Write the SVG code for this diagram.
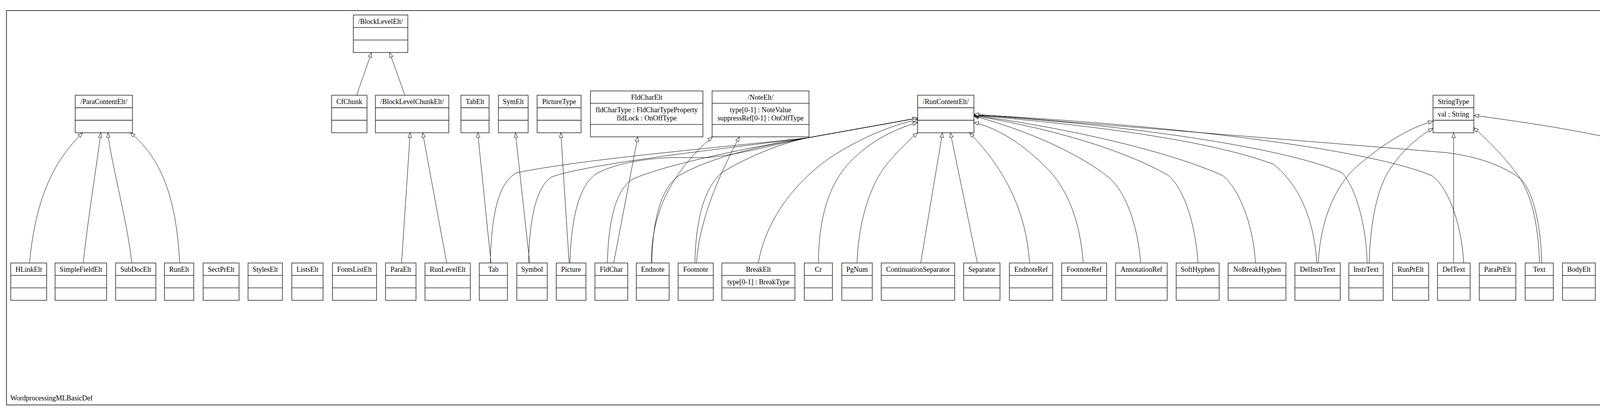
<svg xmlns="http://www.w3.org/2000/svg" width="7341" height="1051" viewBox="0 0 7341 1051">
<style>
.b{fill:#fff;stroke:#000;stroke-width:1.3}
.d{stroke:#000;stroke-width:1.3}
.f{fill:none;stroke:#000;stroke-width:1.5}
.t{font-family:"Liberation Serif","Times New Roman",serif;font-size:18px;text-anchor:middle;fill:#000}
.l{font-family:"Liberation Serif","Times New Roman",serif;font-size:18px;fill:#000}
.c{fill:none;stroke:#000;stroke-width:1;marker-end:url(#gen)}
</style>
<defs>
<marker id="gen" markerWidth="14" markerHeight="11" refX="12.5" refY="5" orient="auto" markerUnits="userSpaceOnUse">
<path d="M0.5,0.5 L12.5,5 L0.5,9.5 Z" fill="#fff" stroke="#000" stroke-width="1"/>
</marker>
</defs>
<rect width="7341" height="1051" fill="#fff"/>
<g id="pkg-WordprocessingMLBasicDef">
<rect class="f" x="16.6" y="27" width="6757" height="1008.5"/>
<text class="l" x="26.5" y="1024">WordprocessingMLBasicDef</text>
</g>
<g id="pkg-PrimitiveTypes">
<rect class="f" x="6783.8" y="667.6" width="541.4" height="138"/>
<text class="l" x="6793.3" y="795.6">PrimitiveTypes</text>
</g>

<g id="connectors">
<path class="c" d="M75.5,672.5 C92,500 140,410 211.5,339.5"/>
<path class="c" d="M213,672.5 C225,560 248,420 258,339.5"/>
<path class="c" d="M337.5,672.5 C325,560 285,420 276,339.5"/>
<path class="c" d="M460,672.5 C452,520 420,410 333.5,339.5"/>
<path class="c" d="M913,243.5 L951,134.5"/>
<path class="c" d="M1036.5,243.5 L997.5,134.5"/>
<path class="c" d="M1028,672.5 L1050,339.5"/>
<path class="c" d="M1143.5,672.5 L1082,339.5"/>
<path class="c" d="M1257,672.5 L1223,339.5"/>
<path class="c" d="M1356,672.5 L1319.5,339.5"/>
<path class="c" d="M1457,672.5 L1435.7,339.5"/>
<path class="c" d="M1571,672.5 L1632.7,350"/>
<path class="c" d="M1667,672.5 C1668,540 1720,440 1823.5,350"/>
<path class="c" d="M1783,672.5 C1790,560 1845,440 1893,350"/>
<path class="c" d="M1255,672.5 C1258,560 1272,470 1322,442 C1500,405 1900,372 2070,352 L2349.3,302"/>
<path class="c" d="M1353,672.5 C1355,570 1370,478 1413,452 C1520,415 1900,375 2070,352 L2349.3,302"/>
<path class="c" d="M1459,672.5 C1462,570 1478,480 1525,445 C1580,415 1660,405 1720,403 L1810,403 C1900,395 2000,365 2070,352 L2349.3,302"/>
<path class="c" d="M1555,672.5 C1557,570 1575,485 1620,458 C1700,422 1900,380 2070,352 L2349.3,302"/>
<path class="c" d="M1669,672.5 C1670,570 1690,480 1740,448 C1820,402 1950,372 2070,352 L2349.3,302"/>
<path class="c" d="M1779,672.5 C1781,570 1800,480 1850,440 C1920,398 2000,366 2070,352 L2349.3,302"/>
<path class="c" d="M1941.5,672.5 C1960,560 2040,460 2130,400 C2200,355 2280,320 2349.3,306"/>
<path class="c" d="M2095,672.5 C2096,560 2120,470 2180,410 C2230,360 2290,330 2349.3,313"/>
<path class="c" d="M2194,672.5 C2198,560 2230,470 2270,420 C2300,385 2325,360 2349.3,339.5"/>
<path class="c" d="M2357,672.5 L2412.7,339.5"/>
<path class="c" d="M2502,672.5 L2433,339.5"/>
<path class="c" d="M2635.5,672.5 C2628,550 2580,440 2482,339.5"/>
<path class="c" d="M2773,672.5 C2765,560 2730,480 2680,430 C2620,370 2560,330 2493.3,313"/>
<path class="c" d="M2920,672.5 C2912,570 2880,490 2840,455 C2760,390 2620,330 2493.3,297"/>
<path class="c" d="M3067,672.5 C3060,570 3030,480 2990,448 C2880,385 2700,330 2493.3,296"/>
<path class="c" d="M3214,672.5 C3208,570 3170,480 3130,449 C3000,390 2750,330 2493.3,295"/>
<path class="c" d="M3371,672.5 C3365,570 3330,475 3260,420 C3100,360 2800,320 2493.3,295"/>
<path class="c" d="M3500,672.5 C3497,570 3470,480 3436,442 C3300,380 2900,320 2493.3,294"/>
<path class="c" d="M3747,672.5 C3742,570 3705,475 3665,449 C3500,380 3000,320 2493.3,293"/>
<path class="c" d="M3947,672.5 C3944,560 3920,480 3890,455 C3840,420 3780,400 3700,390 L2493.3,292"/>
<path class="c" d="M3375,672.5 C3380,560 3420,470 3480,420 C3540,370 3600,330 3668.5,309.6"/>
<path class="c" d="M3505,672.5 C3508,570 3525,480 3560,430 C3590,385 3630,350 3668.5,328"/>
<path class="c" d="M3721.3,672.5 L3721.3,339.5"/>
<path class="c" d="M3941,672.5 C3938,570 3920,490 3880,440 C3850,400 3810,360 3773,326.5"/>
<path class="c" d="M4447,672.5 C4443,560 4410,480 4372,446 C4300,390 4150,345 3773,295"/>
<path class="c" d="M5891,672.5 C5893,570 5915,490 5952,456 C5990,410 6030,365 6072.8,328"/>
<path class="c" d="M6049.7,672.5 L6116.6,339.5"/>
<path class="c" d="M6208.4,672.5 L6142,339.5"/>
<path class="c" d="M6391.3,672.5 C6385,570 6355,480 6322,442 C6290,410 6240,370 6185,326.5"/>
</g>

<g id="BlockLevelElt"><rect class="b" x="904.5" y="38.3" width="139.5" height="96"/><line class="d" x1="904.5" y1="70.3" x2="1044" y2="70.3"/><line class="d" x1="904.5" y1="102.3" x2="1044" y2="102.3"/><text class="t" x="974.3" y="60.6">/BlockLevelElt/</text></g>
<g id="ParaContentElt"><rect class="b" x="192.5" y="243.5" width="146.5" height="96"/><line class="d" x1="192.5" y1="275.5" x2="339" y2="275.5"/><line class="d" x1="192.5" y1="307.5" x2="339" y2="307.5"/><text class="t" x="265.7" y="265.8">/ParaContentElt/</text></g>
<g id="CfChunk"><rect class="b" x="849" y="243.5" width="90.5" height="96"/><line class="d" x1="849" y1="275.5" x2="939.5" y2="275.5"/><line class="d" x1="849" y1="307.5" x2="939.5" y2="307.5"/><text class="t" x="894.2" y="265.8">CfChunk</text></g>
<g id="BlockLevelChunkElt"><rect class="b" x="961" y="243.5" width="188" height="96"/><line class="d" x1="961" y1="275.5" x2="1149" y2="275.5"/><line class="d" x1="961" y1="307.5" x2="1149" y2="307.5"/><text class="t" x="1055" y="265.8">/BlockLevelChunkElt/</text></g>
<g id="TabElt"><rect class="b" x="1180" y="243.5" width="72" height="96"/><line class="d" x1="1180" y1="275.5" x2="1252" y2="275.5"/><line class="d" x1="1180" y1="307.5" x2="1252" y2="307.5"/><text class="t" x="1216" y="265.8">TabElt</text></g>
<g id="SymElt"><rect class="b" x="1276" y="243.5" width="76" height="96"/><line class="d" x1="1276" y1="275.5" x2="1352" y2="275.5"/><line class="d" x1="1276" y1="307.5" x2="1352" y2="307.5"/><text class="t" x="1314" y="265.8">SymElt</text></g>
<g id="PictureType"><rect class="b" x="1375" y="243.5" width="112.5" height="96"/><line class="d" x1="1375" y1="275.5" x2="1487.5" y2="275.5"/><line class="d" x1="1375" y1="307.5" x2="1487.5" y2="307.5"/><text class="t" x="1431.3" y="265.8">PictureType</text></g>
<g id="FldCharElt"><rect class="b" x="1511.5" y="232.6" width="288" height="117.3"/><line class="d" x1="1511.5" y1="264.1" x2="1799.5" y2="264.1"/><line class="d" x1="1511.5" y1="318.4" x2="1799.5" y2="318.4"/><text class="t" x="1655.5" y="254.9">FldCharElt</text><text class="t" x="1655.5" y="286.6">fldCharType : FldCharTypeProperty</text><text class="t" x="1655.5" y="307.9">fldLock : OnOffType</text></g>
<g id="NoteElt"><rect class="b" x="1823" y="232.6" width="248" height="117.3"/><line class="d" x1="1823" y1="264.1" x2="2071" y2="264.1"/><line class="d" x1="1823" y1="318.4" x2="2071" y2="318.4"/><text class="t" x="1947" y="254.9">/NoteElt/</text><text class="t" x="1947" y="286.6">type[0-1] : NoteValue</text><text class="t" x="1947" y="307.9">suppressRef[0-1] : OnOffType</text></g>
<g id="RunContentElt"><rect class="b" x="2349.3" y="243.5" width="144" height="96"/><line class="d" x1="2349.3" y1="275.5" x2="2493.3" y2="275.5"/><line class="d" x1="2349.3" y1="307.5" x2="2493.3" y2="307.5"/><text class="t" x="2421.3" y="265.8">/RunContentElt/</text></g>
<g id="StringType"><rect class="b" x="3668.5" y="243.5" width="104.5" height="96"/><line class="d" x1="3668.5" y1="275.5" x2="3773" y2="275.5"/><line class="d" x1="3668.5" y1="307.5" x2="3773" y2="307.5"/><text class="t" x="3720.8" y="265.8">StringType</text><text class="t" x="3720.8" y="297.8">val : String</text></g>
<g id="ValueType"><rect class="b" x="6073" y="243.5" width="111.7" height="96"/><line class="d" x1="6073" y1="275.5" x2="6184.7" y2="275.5"/><line class="d" x1="6073" y1="307.5" x2="6184.7" y2="307.5"/><text class="t" x="6128.8" y="265.8">/ValueType/</text></g>

<g id="HLinkElt"><rect class="b" x="27.5" y="672.5" width="92" height="95.5"/><line class="d" x1="27.5" y1="704.3" x2="119.5" y2="704.3"/><line class="d" x1="27.5" y1="736.1" x2="119.5" y2="736.1"/><text class="t" x="73.5" y="694.8">HLinkElt</text></g>
<g id="SimpleFieldElt"><rect class="b" x="141" y="672.5" width="132" height="95.5"/><line class="d" x1="141" y1="704.3" x2="273" y2="704.3"/><line class="d" x1="141" y1="736.1" x2="273" y2="736.1"/><text class="t" x="207" y="694.8">SimpleFieldElt</text></g>
<g id="SubDocElt"><rect class="b" x="296" y="672.5" width="103" height="95.5"/><line class="d" x1="296" y1="704.3" x2="399" y2="704.3"/><line class="d" x1="296" y1="736.1" x2="399" y2="736.1"/><text class="t" x="347.5" y="694.8">SubDocElt</text></g>
<g id="RunElt"><rect class="b" x="421" y="672.5" width="75" height="95.5"/><line class="d" x1="421" y1="704.3" x2="496" y2="704.3"/><line class="d" x1="421" y1="736.1" x2="496" y2="736.1"/><text class="t" x="458.5" y="694.8">RunElt</text></g>
<g id="SectPrElt"><rect class="b" x="520" y="672.5" width="92" height="95.5"/><line class="d" x1="520" y1="704.3" x2="612" y2="704.3"/><line class="d" x1="520" y1="736.1" x2="612" y2="736.1"/><text class="t" x="566" y="694.8">SectPrElt</text></g>
<g id="StylesElt"><rect class="b" x="635" y="672.5" width="88" height="95.5"/><line class="d" x1="635" y1="704.3" x2="723" y2="704.3"/><line class="d" x1="635" y1="736.1" x2="723" y2="736.1"/><text class="t" x="679" y="694.8">StylesElt</text></g>
<g id="ListsElt"><rect class="b" x="747" y="672.5" width="80" height="95.5"/><line class="d" x1="747" y1="704.3" x2="827" y2="704.3"/><line class="d" x1="747" y1="736.1" x2="827" y2="736.1"/><text class="t" x="787" y="694.8">ListsElt</text></g>
<g id="FontsListElt"><rect class="b" x="851" y="672.5" width="113" height="95.5"/><line class="d" x1="851" y1="704.3" x2="964" y2="704.3"/><line class="d" x1="851" y1="736.1" x2="964" y2="736.1"/><text class="t" x="907.5" y="694.8">FontsListElt</text></g>
<g id="ParaElt"><rect class="b" x="987" y="672.5" width="78" height="95.5"/><line class="d" x1="987" y1="704.3" x2="1065" y2="704.3"/><line class="d" x1="987" y1="736.1" x2="1065" y2="736.1"/><text class="t" x="1026" y="694.8">ParaElt</text></g>
<g id="RunLevelElt"><rect class="b" x="1088" y="672.5" width="116" height="95.5"/><line class="d" x1="1088" y1="704.3" x2="1204" y2="704.3"/><line class="d" x1="1088" y1="736.1" x2="1204" y2="736.1"/><text class="t" x="1146" y="694.8">RunLevelElt</text></g>
<g id="Tab"><rect class="b" x="1227" y="672.5" width="72" height="95.5"/><line class="d" x1="1227" y1="704.3" x2="1299" y2="704.3"/><line class="d" x1="1227" y1="736.1" x2="1299" y2="736.1"/><text class="t" x="1263" y="694.8">Tab</text></g>
<g id="Symbol"><rect class="b" x="1323" y="672.5" width="78" height="95.5"/><line class="d" x1="1323" y1="704.3" x2="1401" y2="704.3"/><line class="d" x1="1323" y1="736.1" x2="1401" y2="736.1"/><text class="t" x="1362" y="694.8">Symbol</text></g>
<g id="Picture"><rect class="b" x="1424" y="672.5" width="76" height="95.5"/><line class="d" x1="1424" y1="704.3" x2="1500" y2="704.3"/><line class="d" x1="1424" y1="736.1" x2="1500" y2="736.1"/><text class="t" x="1462" y="694.8">Picture</text></g>
<g id="FldChar"><rect class="b" x="1523" y="672.5" width="84" height="95.5"/><line class="d" x1="1523" y1="704.3" x2="1607" y2="704.3"/><line class="d" x1="1523" y1="736.1" x2="1607" y2="736.1"/><text class="t" x="1565" y="694.8">FldChar</text></g>
<g id="Endnote"><rect class="b" x="1629" y="672.5" width="84" height="95.5"/><line class="d" x1="1629" y1="704.3" x2="1713" y2="704.3"/><line class="d" x1="1629" y1="736.1" x2="1713" y2="736.1"/><text class="t" x="1671" y="694.8">Endnote</text></g>
<g id="Footnote"><rect class="b" x="1736" y="672.5" width="90" height="95.5"/><line class="d" x1="1736" y1="704.3" x2="1826" y2="704.3"/><line class="d" x1="1736" y1="736.1" x2="1826" y2="736.1"/><text class="t" x="1781" y="694.8">Footnote</text></g>
<g id="BreakElt"><rect class="b" x="1848" y="672.5" width="187" height="95.5"/><line class="d" x1="1848" y1="704.3" x2="2035" y2="704.3"/><line class="d" x1="1848" y1="736.1" x2="2035" y2="736.1"/><text class="t" x="1941.5" y="694.8">BreakElt</text><text class="t" x="1941.5" y="726.6">type[0-1] : BreakType</text></g>
<g id="Cr"><rect class="b" x="2059" y="672.5" width="72" height="95.5"/><line class="d" x1="2059" y1="704.3" x2="2131" y2="704.3"/><line class="d" x1="2059" y1="736.1" x2="2131" y2="736.1"/><text class="t" x="2095" y="694.8">Cr</text></g>
<g id="PgNum"><rect class="b" x="2155" y="672.5" width="78" height="95.5"/><line class="d" x1="2155" y1="704.3" x2="2233" y2="704.3"/><line class="d" x1="2155" y1="736.1" x2="2233" y2="736.1"/><text class="t" x="2194" y="694.8">PgNum</text></g>
<g id="ContinuationSeparator"><rect class="b" x="2256" y="672.5" width="188" height="95.5"/><line class="d" x1="2256" y1="704.3" x2="2444" y2="704.3"/><line class="d" x1="2256" y1="736.1" x2="2444" y2="736.1"/><text class="t" x="2350" y="694.8">ContinuationSeparator</text></g>
<g id="Separator"><rect class="b" x="2467" y="672.5" width="93" height="95.5"/><line class="d" x1="2467" y1="704.3" x2="2560" y2="704.3"/><line class="d" x1="2467" y1="736.1" x2="2560" y2="736.1"/><text class="t" x="2513.5" y="694.8">Separator</text></g>
<g id="EndnoteRef"><rect class="b" x="2584" y="672.5" width="111" height="95.5"/><line class="d" x1="2584" y1="704.3" x2="2695" y2="704.3"/><line class="d" x1="2584" y1="736.1" x2="2695" y2="736.1"/><text class="t" x="2639.5" y="694.8">EndnoteRef</text></g>
<g id="FootnoteRef"><rect class="b" x="2718" y="672.5" width="115" height="95.5"/><line class="d" x1="2718" y1="704.3" x2="2833" y2="704.3"/><line class="d" x1="2718" y1="736.1" x2="2833" y2="736.1"/><text class="t" x="2775.5" y="694.8">FootnoteRef</text></g>
<g id="AnnotationRef"><rect class="b" x="2856" y="672.5" width="132" height="95.5"/><line class="d" x1="2856" y1="704.3" x2="2988" y2="704.3"/><line class="d" x1="2856" y1="736.1" x2="2988" y2="736.1"/><text class="t" x="2922" y="694.8">AnnotationRef</text></g>
<g id="SoftHyphen"><rect class="b" x="3011" y="672.5" width="110" height="95.5"/><line class="d" x1="3011" y1="704.3" x2="3121" y2="704.3"/><line class="d" x1="3011" y1="736.1" x2="3121" y2="736.1"/><text class="t" x="3066" y="694.8">SoftHyphen</text></g>
<g id="NoBreakHyphen"><rect class="b" x="3144" y="672.5" width="148" height="95.5"/><line class="d" x1="3144" y1="704.3" x2="3292" y2="704.3"/><line class="d" x1="3144" y1="736.1" x2="3292" y2="736.1"/><text class="t" x="3218" y="694.8">NoBreakHyphen</text></g>
<g id="DelInstrText"><rect class="b" x="3315" y="672.5" width="116" height="95.5"/><line class="d" x1="3315" y1="704.3" x2="3431" y2="704.3"/><line class="d" x1="3315" y1="736.1" x2="3431" y2="736.1"/><text class="t" x="3373" y="694.8">DelInstrText</text></g>
<g id="InstrText"><rect class="b" x="3453" y="672.5" width="88" height="95.5"/><line class="d" x1="3453" y1="704.3" x2="3541" y2="704.3"/><line class="d" x1="3453" y1="736.1" x2="3541" y2="736.1"/><text class="t" x="3497" y="694.8">InstrText</text></g>
<g id="RunPrElt"><rect class="b" x="3565" y="672.5" width="92.5" height="95.5"/><line class="d" x1="3565" y1="704.3" x2="3657.5" y2="704.3"/><line class="d" x1="3565" y1="736.1" x2="3657.5" y2="736.1"/><text class="t" x="3611.2" y="694.8">RunPrElt</text></g>
<g id="DelText"><rect class="b" x="3680" y="672.5" width="83.5" height="95.5"/><line class="d" x1="3680" y1="704.3" x2="3763.5" y2="704.3"/><line class="d" x1="3680" y1="736.1" x2="3763.5" y2="736.1"/><text class="t" x="3721.7" y="694.8">DelText</text></g>
<g id="ParaPrElt"><rect class="b" x="3787" y="672.5" width="93.5" height="95.5"/><line class="d" x1="3787" y1="704.3" x2="3880.5" y2="704.3"/><line class="d" x1="3787" y1="736.1" x2="3880.5" y2="736.1"/><text class="t" x="3833.7" y="694.8">ParaPrElt</text></g>
<g id="Text"><rect class="b" x="3904.5" y="672.5" width="72" height="95.5"/><line class="d" x1="3904.5" y1="704.3" x2="3976.5" y2="704.3"/><line class="d" x1="3904.5" y1="736.1" x2="3976.5" y2="736.1"/><text class="t" x="3940.5" y="694.8">Text</text></g>
<g id="BodyElt"><rect class="b" x="4000" y="672.5" width="84" height="95.5"/><line class="d" x1="4000" y1="704.3" x2="4084" y2="704.3"/><line class="d" x1="4000" y1="736.1" x2="4084" y2="736.1"/><text class="t" x="4042" y="694.8">BodyElt</text></g>
<g id="DocPrElt"><rect class="b" x="4107" y="672.5" width="92.5" height="95.5"/><line class="d" x1="4107" y1="704.3" x2="4199.5" y2="704.3"/><line class="d" x1="4107" y1="736.1" x2="4199.5" y2="736.1"/><text class="t" x="4153.2" y="694.8">DocPrElt</text></g>
<g id="WordDocument"><rect class="b" x="4221" y="672.5" width="140" height="95.5"/><line class="d" x1="4221" y1="704.3" x2="4361" y2="704.3"/><line class="d" x1="4221" y1="736.1" x2="4361" y2="736.1"/><text class="t" x="4291" y="694.8">WordDocument</text></g>
<g id="StringProperty"><rect class="b" x="4384" y="672.5" width="129.5" height="95.5"/><line class="d" x1="4384" y1="704.3" x2="4513.5" y2="704.3"/><line class="d" x1="4384" y1="736.1" x2="4513.5" y2="736.1"/><text class="t" x="4448.8" y="694.8">StringProperty</text></g>
<g id="SmartTagsCollection"><rect class="b" x="4536" y="672.5" width="176" height="95.5"/><line class="d" x1="4536" y1="704.3" x2="4712" y2="704.3"/><line class="d" x1="4536" y1="736.1" x2="4712" y2="736.1"/><text class="t" x="4624" y="694.8">SmartTagsCollection</text></g>
<g id="SmartTagType"><rect class="b" x="4736" y="650.8" width="183.5" height="139.4"/><line class="d" x1="4736" y1="682.5" x2="4919.5" y2="682.5"/><line class="d" x1="4736" y1="758.5" x2="4919.5" y2="758.5"/><text class="t" x="4827.7" y="673.1">SmartTagType</text><text class="t" x="4827.7" y="705.5">namespaceuri : String</text><text class="t" x="4827.7" y="726.8">name : String</text><text class="t" x="4827.7" y="748">url[0-1] : String</text></g>
<g id="CustomDocumentProperty"><rect class="b" x="4941.5" y="672.5" width="218.5" height="95.5"/><line class="d" x1="4941.5" y1="704.3" x2="5160" y2="704.3"/><line class="d" x1="4941.5" y1="736.1" x2="5160" y2="736.1"/><text class="t" x="5050.8" y="694.8">CustomDocumentProperty</text><text class="t" x="5050.8" y="726.6">name : String</text></g>
<g id="CustomDocumentPropertiesCollection"><rect class="b" x="5184" y="672.5" width="307" height="95.5"/><line class="d" x1="5184" y1="704.3" x2="5491" y2="704.3"/><line class="d" x1="5184" y1="736.1" x2="5491" y2="736.1"/><text class="t" x="5337.5" y="694.8">CustomDocumentPropertiesCollection</text></g>
<g id="DocumentPropertiesCollection"><rect class="b" x="5515" y="447.7" width="288.5" height="544.3"/><line class="d" x1="5515" y1="480.6" x2="5803.5" y2="480.6"/><line class="d" x1="5515" y1="959.8" x2="5803.5" y2="959.8"/><text class="t" x="5659.2" y="470">DocumentPropertiesCollection</text>
<text class="t" y="502.9"><tspan x="5659.2">title[0-1] : String</tspan><tspan x="5659.2" dy="21.25">subject[0-1] : String</tspan><tspan x="5659.2" dy="21.25">keywords[0-1] : String</tspan><tspan x="5659.2" dy="21.25">description[0-1] : String</tspan><tspan x="5659.2" dy="21.25">category[0-1] : String</tspan><tspan x="5659.2" dy="21.25">author[0-1] : String</tspan><tspan x="5659.2" dy="21.25">lastAuthor[0-1] : String</tspan><tspan x="5659.2" dy="21.25">manager[0-1] : String</tspan><tspan x="5659.2" dy="21.25">company[0-1] : String</tspan><tspan x="5659.2" dy="21.25">hyperlinkBase[0-1] : String</tspan><tspan x="5659.2" dy="21.25">revision[0-1] : Integer</tspan><tspan x="5659.2" dy="21.25">presentationFormat[0-1] : String</tspan><tspan x="5659.2" dy="21.25">guid[0-1] : String</tspan><tspan x="5659.2" dy="21.25">appName[0-1] : String</tspan><tspan x="5659.2" dy="21.25">totalTime[0-1] : Integer</tspan><tspan x="5659.2" dy="21.25">pages[0-1] : Integer</tspan><tspan x="5659.2" dy="21.25">words[0-1] : Integer</tspan><tspan x="5659.2" dy="21.25">characters[0-1] : Integer</tspan><tspan x="5659.2" dy="21.25">charactersWithSpaces[0-1] : Integer</tspan><tspan x="5659.2" dy="21.25">bytes[0-1] : Integer</tspan><tspan x="5659.2" dy="21.25">lines[0-1] : Integer</tspan><tspan x="5659.2" dy="21.25">paragraphs[0-1] : Integer</tspan></text></g>
<g id="StringValue"><rect class="b" x="5827" y="672.5" width="121.5" height="95.5"/><line class="d" x1="5827" y1="704.3" x2="5948.5" y2="704.3"/><line class="d" x1="5827" y1="736.1" x2="5948.5" y2="736.1"/><text class="t" x="5887.8" y="694.8">StringValue</text><text class="t" x="5887.8" y="726.6">value : String</text></g>
<g id="BooleanValue"><rect class="b" x="5971.5" y="672.5" width="138" height="95.5"/><line class="d" x1="5971.5" y1="704.3" x2="6109.5" y2="704.3"/><line class="d" x1="5971.5" y1="736.1" x2="6109.5" y2="736.1"/><text class="t" x="6040.5" y="694.8">BooleanValue</text><text class="t" x="6040.5" y="726.6">value : Boolean</text></g>
<g id="DateTimeTypeValue"><rect class="b" x="6133" y="672.5" width="175" height="95.5"/><line class="d" x1="6133" y1="704.3" x2="6308" y2="704.3"/><line class="d" x1="6133" y1="736.1" x2="6308" y2="736.1"/><text class="t" x="6220.5" y="694.8">DateTimeTypeValue</text></g>
<g id="FloatValue"><rect class="b" x="6331" y="672.5" width="132" height="95.5"/><line class="d" x1="6331" y1="704.3" x2="6463" y2="704.3"/><line class="d" x1="6331" y1="736.1" x2="6463" y2="736.1"/><text class="t" x="6397" y="694.8">FloatValue</text><text class="t" x="6397" y="726.6">value : Double</text></g>
<g id="VersionType"><rect class="b" x="6485.5" y="662.2" width="115" height="116.6"/><line class="d" x1="6485.5" y1="693.7" x2="6600.5" y2="693.7"/><line class="d" x1="6485.5" y1="746.6" x2="6600.5" y2="746.6"/><text class="t" x="6543" y="684.5">VersionType</text><text class="t" x="6543" y="716">n : Integer</text><text class="t" x="6543" y="737.3">m : Integer</text></g>
<g id="DateTimeType"><rect class="b" x="6624" y="619.3" width="140" height="202.4"/><line class="d" x1="6624" y1="650.8" x2="6764" y2="650.8"/><line class="d" x1="6624" y1="790.2" x2="6764" y2="790.2"/><text class="t" x="6694" y="641.6">DateTimeType</text>
<text class="t" y="673.1"><tspan x="6694">year : Integer</tspan><tspan x="6694" dy="21.25">month : Integer</tspan><tspan x="6694" dy="21.25">day : Integer</tspan><tspan x="6694" dy="21.25">hour : Integer</tspan><tspan x="6694" dy="21.25">minute : Integer</tspan><tspan x="6694" dy="21.25">second : Integer</tspan></text></g>

<g id="Double"><rect class="b" x="6795" y="678.3" width="112.3" height="84.4"/><line class="d" x1="6795" y1="731.2" x2="6907.3" y2="731.2"/><text class="t" x="6851.1" y="699">«DataType»</text><text class="t" x="6851.1" y="720.5">Double</text></g>
<g id="Boolean"><rect class="b" x="6931" y="678.3" width="112.4" height="84.4"/><line class="d" x1="6931" y1="731.2" x2="7043.4" y2="731.2"/><text class="t" x="6987.2" y="699">«DataType»</text><text class="t" x="6987.2" y="720.5">Boolean</text></g>
<g id="String"><rect class="b" x="7067.1" y="678.3" width="112.4" height="84.4"/><line class="d" x1="7067.1" y1="731.2" x2="7179.5" y2="731.2"/><text class="t" x="7123.3" y="699">«DataType»</text><text class="t" x="7123.3" y="720.5">String</text></g>
<g id="Integer"><rect class="b" x="7203.3" y="678.3" width="111.6" height="84.4"/><line class="d" x1="7203.3" y1="731.2" x2="7314.9" y2="731.2"/><text class="t" x="7259.1" y="699">«DataType»</text><text class="t" x="7259.1" y="720.5">Integer</text></g>
</svg>
